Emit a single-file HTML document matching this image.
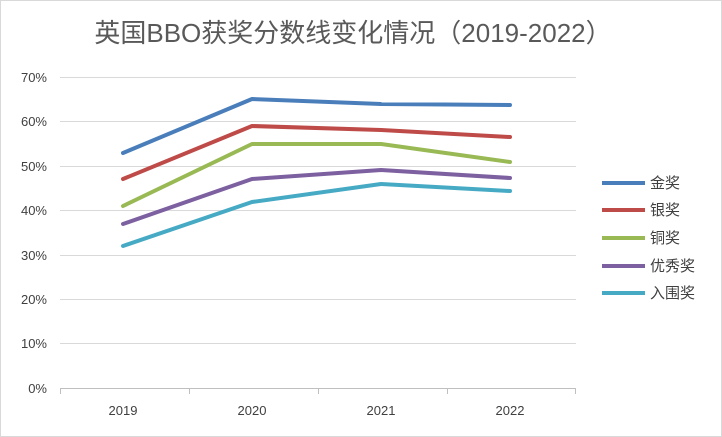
<!DOCTYPE html>
<html><head><meta charset="utf-8"><style>
html,body{margin:0;padding:0;background:#fff;}
svg{display:block;font-family:"Liberation Sans","Noto Sans CJK SC",sans-serif;}
</style></head><body>
<svg width="722" height="437" viewBox="0 0 722 437" xmlns="http://www.w3.org/2000/svg">
<rect x="0.5" y="0.5" width="721" height="436" fill="#fff" stroke="#d9d9d9"/>
<text x="353" y="42" text-anchor="middle" font-size="26" fill="#595959">英国BBO获奖分数线变化情况（2019-2022）</text>
<g stroke="#d9d9d9" stroke-width="1">
<line x1="60" y1="77.5" x2="576" y2="77.5"/>
<line x1="60" y1="121.5" x2="576" y2="121.5"/>
<line x1="60" y1="166.5" x2="576" y2="166.5"/>
<line x1="60" y1="210.5" x2="576" y2="210.5"/>
<line x1="60" y1="255.5" x2="576" y2="255.5"/>
<line x1="60" y1="299.5" x2="576" y2="299.5"/>
<line x1="60" y1="343.5" x2="576" y2="343.5"/>
</g>
<g stroke="#bfbfbf" stroke-width="1">
<line x1="60" y1="388.5" x2="576" y2="388.5"/>
<line x1="60.5" y1="388" x2="60.5" y2="394"/>
<line x1="189.5" y1="388" x2="189.5" y2="394"/>
<line x1="318.5" y1="388" x2="318.5" y2="394"/>
<line x1="447.5" y1="388" x2="447.5" y2="394"/>
<line x1="575.5" y1="388" x2="575.5" y2="394"/>
</g>
<g font-size="13" fill="#404040" text-anchor="end">
<text x="47" y="82">70%</text><text x="47" y="126">60%</text><text x="47" y="171">50%</text>
<text x="47" y="215">40%</text><text x="47" y="260">30%</text><text x="47" y="304">20%</text>
<text x="47" y="348">10%</text><text x="47" y="393">0%</text>
</g>
<g font-size="13" fill="#404040" text-anchor="middle">
<text x="123" y="415">2019</text><text x="252" y="415">2020</text><text x="381" y="415">2021</text><text x="510" y="415">2022</text>
</g>
<g fill="none" stroke-width="4" stroke-linejoin="round" stroke-linecap="round">
<polyline stroke="#46aac5" points="123,246 252,202 381,184 510,191"/>
<polyline stroke="#7d60a0" points="123,224 252,179 381,170 510,178"/>
<polyline stroke="#98b954" points="123,206 252,144 381,144 510,162"/>
<polyline stroke="#be4b48" points="123,179 252,126 381,130 510,137"/>
<polyline stroke="#4a7ebb" points="123,153 252,99 381,104 510,105"/>
</g>
<g stroke-width="4">
<line x1="602" y1="183" x2="645" y2="183" stroke="#4a7ebb"/>
<line x1="602" y1="210" x2="645" y2="210" stroke="#be4b48"/>
<line x1="602" y1="238" x2="645" y2="238" stroke="#98b954"/>
<line x1="602" y1="266" x2="645" y2="266" stroke="#7d60a0"/>
<line x1="602" y1="293" x2="645" y2="293" stroke="#46aac5"/>
</g>
<g font-size="15" fill="#404040">
<text x="650" y="188">金奖</text><text x="650" y="215">银奖</text><text x="650" y="243">铜奖</text>
<text x="650" y="271">优秀奖</text><text x="650" y="298">入围奖</text>
</g>
</svg>
</body></html>
